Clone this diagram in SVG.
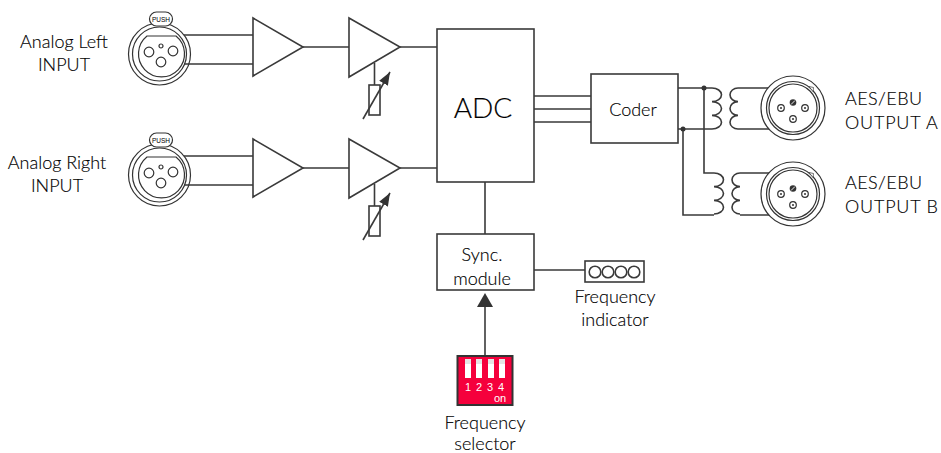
<svg xmlns="http://www.w3.org/2000/svg" width="941" height="453" viewBox="0 0 941 453">
<style>
text{font-family:"Lato","Open Sans",sans-serif;font-weight:300;font-size:18px;fill:#000;stroke:#000;stroke-width:0.15;text-anchor:middle}
.s{text-anchor:start;letter-spacing:0.4px}
.c{letter-spacing:0.8px}
.l{fill:none;stroke:#3a3a3a;stroke-width:1.6}
.b{fill:#fff;stroke:#3a3a3a;stroke-width:1.6}
.t{fill:none;stroke:#333;stroke-width:1.2}
.d{fill:#333}
.w{fill:#fff;stroke:none;font-weight:400;font-size:11px;font-family:"Liberation Sans",sans-serif}
</style>
<defs>
<marker id="ah" markerUnits="userSpaceOnUse" markerWidth="14" markerHeight="14" refX="13" refY="5" orient="auto"><path d="M0 0L13 5L0 10Z" fill="#333"/></marker>
<g id="xlr">
<circle r="31" class="t"/><circle r="27" class="t"/>
<path class="t" d="M-12.500 -18H16.500A23 23 0 1 1 -12.500 -18Z"/>
<circle cx="-10.500" cy="-2" r="4.800" class="t"/><circle cx="13.500" cy="-3" r="4.800" class="t"/><circle cx="1.500" cy="8" r="4.800" class="t"/><circle cx="1.500" cy="-8" r="2" class="t"/>
<rect x="-10" y="-42" width="23" height="14" rx="7" fill="#fff" stroke="#333" stroke-width="1.200"/>
<text x="1.500" y="-32.500" style="font-size:6.500px;font-weight:400;stroke:none;font-family:'Liberation Sans',sans-serif">PUSH</text>
</g>
<g id="out">
<circle r="32" class="t"/><circle r="26.500" class="t" stroke-width="1.500"/><circle r="24" class="t"/>
<path d="M16 -21.500L20 -16.500L20.500 -20.500Z" fill="#fff" stroke="#333" stroke-width="0.700"/>
<circle cy="-5.500" r="3.300" class="d"/><path d="M-2 -3.500L2 -7.500" stroke="#fff" stroke-width="0.900"/>
<circle cx="-12" r="3.300" class="t" stroke-width="1.800"/><circle cx="12" r="3.300" class="t" stroke-width="1.800"/><circle cy="11" r="3.300" class="t" stroke-width="1.800"/>
<circle cx="-12" r="1" class="d"/><circle cx="12" r="1" class="d"/><circle cy="11" r="1" class="d"/>
</g>
<path id="coilR" class="l" d="M0 0A9.500 6.830 0 0 1 0 13.670A9.500 6.830 0 0 1 0 27.330A9.500 6.830 0 0 1 0 41"/>
<path id="coilL" class="l" d="M0 0A8 6.830 0 0 0 0 13.670A8 6.830 0 0 0 0 27.330A8 6.830 0 0 0 0 41"/>
</defs>

<g id="connectors">
<path class="l" d="M184 35H253M184 64H253M303 47H349M400 47H437"/>
<path class="l" d="M184 156H253M184 185H253M303 168H349M400 168H437"/>
<path class="l" d="M374.500 63V85M374.500 184V206"/>
<path class="l" d="M534 96H591M534 109H591M534 122H591"/>
<path class="l" d="M678 88H712M678 129H712M704 88V173H714M683 129V215H714"/>
<path class="l" d="M738 88H772M738 129H772M740 173H772M740 215H772"/>
<path class="l" d="M485 182V234M534 270H585"/>
<path class="l" d="M485 355V300"/>
<path class="d" d="M477 307L485 293L493 307Z"/>
<circle cx="704" cy="88" r="2.500" class="d"/><circle cx="683" cy="129" r="2.500" class="d"/>
</g>

<g id="xlr-left"><use href="#xlr" x="159.500" y="54"/></g>
<g id="xlr-right"><use href="#xlr" x="159.500" y="175"/></g>
<g id="label-left"><text x="64" y="48">Analog Left</text><text x="64" y="71">INPUT</text></g>
<g id="label-right"><text x="57" y="169">Analog Right</text><text x="57" y="192">INPUT</text></g>

<g id="amp1-left"><path class="b" d="M253 18L303 47L253 76Z"/></g>
<g id="amp1-right"><path class="b" d="M253 139L303 168L253 197Z"/></g>
<g id="amp2-left"><path class="b" d="M349 18L400 47L349 77Z"/><rect class="b" x="369" y="85" width="11" height="30"/><path class="l" d="M363 119L390 72" marker-end="url(#ah)"/></g>
<g id="amp2-right"><path class="b" d="M349 139L400 168L349 198Z"/><rect class="b" x="369" y="206" width="11" height="30"/><path class="l" d="M363 240L390 193" marker-end="url(#ah)"/></g>

<g id="adc"><rect class="b" x="437" y="29" width="97" height="153"/><text x="483" y="118" style="font-size:28px">ADC</text></g>
<g id="coder"><rect class="b" x="591" y="74" width="87" height="69"/><text x="633" y="116">Coder</text></g>
<g id="sync"><rect class="b" x="437" y="234" width="97" height="56"/><text x="482" y="261">Sync.</text><text x="482" y="285">module</text></g>

<g id="indicator"><rect class="b" x="585" y="261" width="59" height="21"/><circle class="b" cx="595" cy="272" r="5.800"/><circle class="b" cx="608" cy="272" r="5.800"/><circle class="b" cx="621" cy="272" r="5.800"/><circle class="b" cx="634" cy="272" r="5.800"/><text x="615" y="303">Frequency</text><text x="615" y="326">indicator</text></g>

<g id="selector"><rect x="457.500" y="356" width="55" height="49" fill="#f5003c" stroke="#333" stroke-width="2"/>
<rect x="465" y="359" width="6" height="19" fill="#fff"/><rect x="476" y="359" width="6" height="19" fill="#fff"/><rect x="488" y="359" width="6" height="19" fill="#fff"/><rect x="499" y="359" width="6" height="19" fill="#fff"/>
<rect x="465" y="359" width="6" height="5" fill="#e4e4e4"/><rect x="476" y="359" width="6" height="5" fill="#e4e4e4"/><rect x="488" y="359" width="6" height="5" fill="#e4e4e4"/><rect x="499" y="359" width="6" height="5" fill="#e4e4e4"/>
<text class="w" x="468" y="391">1</text><text class="w" x="479" y="391">2</text><text class="w" x="490" y="391">3</text><text class="w" x="501" y="391">4</text><text class="w" x="500" y="402">on</text>
<text x="485" y="429">Frequency</text><text x="485" y="450">selector</text></g>

<g id="transformer-a"><use href="#coilR" x="712" y="88"/><use href="#coilL" x="738" y="88"/></g>
<g id="transformer-b"><use href="#coilR" x="714" y="173"/><use href="#coilL" x="740" y="173"/></g>
<g id="output-a"><circle cx="793" cy="108" r="32" fill="#fff"/><use href="#out" x="793" y="108"/><text class="s" x="845" y="105">AES/EBU</text><text class="s c" x="845" y="129">OUTPUT A</text></g>
<g id="output-b"><circle cx="793" cy="194" r="32" fill="#fff"/><use href="#out" x="793" y="194"/><text class="s" x="845" y="189">AES/EBU</text><text class="s c" x="845" y="213">OUTPUT B</text></g>
</svg>
